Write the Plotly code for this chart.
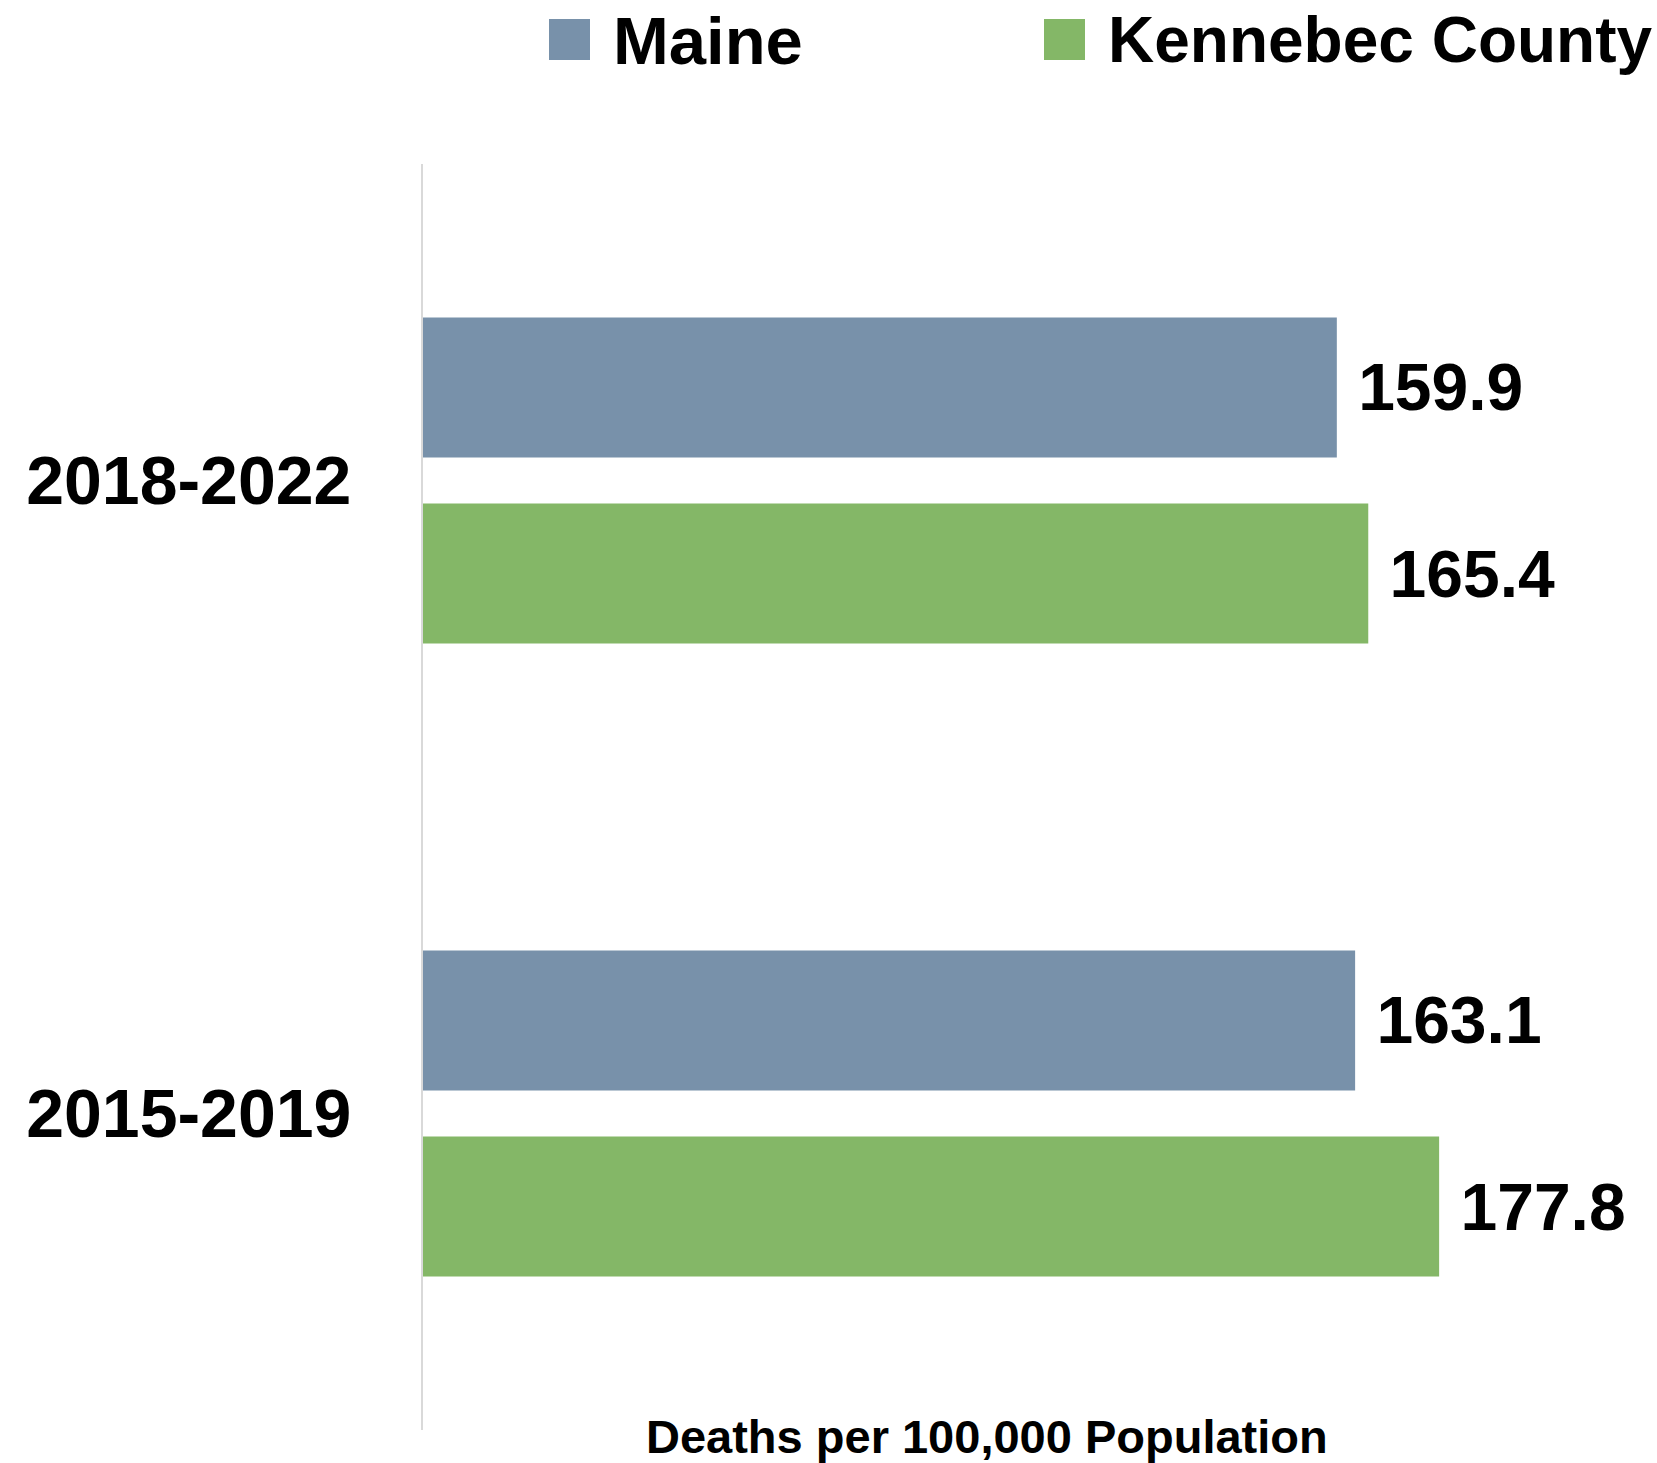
import plotly.graph_objects as go

# Mortality rates, deaths per 100,000 population
periods = ["2018-2022", "2015-2019"]
series_names = ["Maine", "Kennebec County"]
maine_values = [159.9, 163.1]
kennebec_values = [165.4, 177.8]
series_colors = ["#7891AA", "#84B767"]

W, H = 1657, 1463
PLOT_L, PLOT_R, PLOT_T, PLOT_B = 423, 1550, 164, 1430
FONT = "Liberation Sans, Arial, sans-serif"


def px_x(p):
    return (p - PLOT_L) / (PLOT_R - PLOT_L)


def px_y(p):
    return (PLOT_B - p) / (PLOT_B - PLOT_T)


fig = go.Figure()
for name, vals, color in zip(series_names, [maine_values, kennebec_values], series_colors):
    fig.add_trace(go.Bar(
        name=name,
        y=periods,
        x=vals,
        orientation="h",
        marker=dict(color=color, line=dict(width=0)),
        text=[f" {v:.1f}" for v in vals],
        textposition="outside",
        textfont=dict(family=FONT, size=66, color="#000000", weight="bold"),
        cliponaxis=False,
        constraintext="none",
        showlegend=False,
    ))

# Legend drawn as large square swatches with labels
legend_items = [(549, 611), (1044, 1106)]
legend_sizes = [67, 64]
shapes = []
annotations = []
for (sx, tx), fs, name, color in zip(legend_items, legend_sizes, series_names, series_colors):
    shapes.append(dict(
        type="rect", xref="paper", yref="paper",
        x0=px_x(sx), x1=px_x(sx + 41), y0=px_y(60), y1=px_y(19),
        fillcolor=color, line=dict(width=0),
    ))
    annotations.append(dict(
        xref="paper", yref="paper", x=px_x(tx), y=px_y(40),
        xanchor="left", yanchor="middle", showarrow=False,
        text=name, font=dict(family=FONT, size=fs, color="#000000", weight="bold"),
    ))

annotations.append(dict(
    xref="paper", yref="paper", x=0.5, y=px_y(1436),
    xanchor="center", yanchor="middle", showarrow=False,
    text="Deaths per 100,000 Population",
    font=dict(family=FONT, size=47, color="#000000", weight="bold"),
))

fig.update_layout(
    width=W, height=H,
    margin=dict(l=PLOT_L, r=W - PLOT_R, t=PLOT_T, b=H - PLOT_B, pad=0),
    paper_bgcolor="#FFFFFF", plot_bgcolor="#FFFFFF",
    barmode="group", bargap=0.412, bargroupgap=0.247,
    shapes=shapes, annotations=annotations,
    xaxis=dict(range=[0, 197.2], showgrid=False, zeroline=False,
               showticklabels=False, showline=False, ticks=""),
    yaxis=dict(autorange="reversed", showgrid=False, zeroline=False,
               showline=True, linecolor="#D9D9D9", linewidth=2,
               ticks="outside", ticklen=56, tickcolor="rgba(0,0,0,0)",
               tickfont=dict(family=FONT, size=68, color="#000000", weight="bold")),
)

fig.write_html("out.html")
